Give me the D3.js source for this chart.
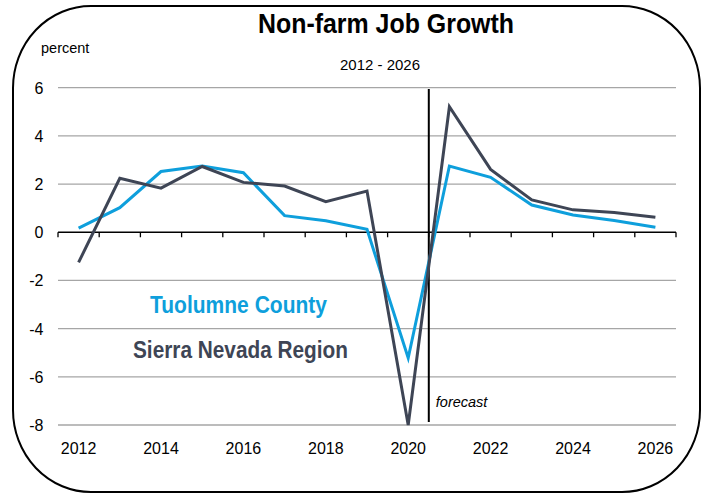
<!DOCTYPE html>
<html>
<head>
<meta charset="utf-8">
<script src="https://cdn.jsdelivr.net/npm/d3@7"></script>
<style>
	body { margin: 0; background: #fff; }
	svg { display: block; font-family: "Liberation Sans", Arial, sans-serif; }
</style>
</head>
<body>
<div id="chart"></div>
<script>
var years = [2012, 2013, 2014, 2015, 2016, 2017, 2018, 2019, 2020,
             2021, 2022, 2023, 2024, 2025, 2026];
var tuolumne = [0.17, 1.02, 2.52, 2.75, 2.47, 0.69, 0.48, 0.12, -5.22,
                2.75, 2.28, 1.13, 0.72, 0.49, 0.21];
var sierra = [-1.25, 2.24, 1.83, 2.73, 2.07, 1.92, 1.27, 1.71, -8.0,
              5.21, 2.61, 1.34, 0.93, 0.82, 0.62];
var yTicks = [-8, -6, -4, -2, 0, 2, 4, 6];
var xLabels = [2012, 2014, 2016, 2018, 2020, 2022, 2024, 2026];
var forecastStart = 2021;

var W = 708, H = 493;
var svg = d3.select('#chart').append('svg')
	.attr('width', W).attr('height', H);

// rounded frame
svg.append('rect')
	.attr('x', 13).attr('y', 6)
	.attr('width', 687).attr('height', 486)
	.attr('rx', 78).attr('ry', 82)
	.style('fill', 'none')
	.style('stroke', '#000')
	.style('stroke-width', 2);

var x = d3.scaleBand().domain(years).range([58, 676]);
var y = d3.scaleLinear().domain([-8, 6]).range([425, 87.7]);
var cx = function(d) { return x(d) + x.bandwidth() / 2; };

// gridlines
svg.append('g').selectAll('line')
	.data(yTicks.filter(function(d) { return d !== 0; }))
	.join('line')
	.attr('x1', 58).attr('x2', 676)
	.attr('y1', function(d) { return y(d); })
	.attr('y2', function(d) { return y(d); })
	.style('stroke', '#a6a6a6')
	.style('stroke-width', 1.3);

// y labels
svg.append('g').selectAll('text')
	.data(yTicks)
	.join('text')
	.attr('x', 43.5)
	.attr('y', function(d) { return y(d) + 6; })
	.attr('text-anchor', 'end')
	.style('font-size', '16px')
	.style('fill', '#000')
	.text(function(d) { return d; });

// zero axis with ticks on category boundaries
var boundaries = years.map(function(d) { return x(d); }).concat([676]);
svg.append('line')
	.attr('x1', 58).attr('x2', 676)
	.attr('y1', y(0)).attr('y2', y(0))
	.style('stroke', '#000').style('stroke-width', 1.3);
svg.append('g').selectAll('line')
	.data(boundaries)
	.join('line')
	.attr('x1', function(d) { return d; }).attr('x2', function(d) { return d; })
	.attr('y1', y(0)).attr('y2', y(0) + 5)
	.style('stroke', '#000').style('stroke-width', 1.3);

// x labels
svg.append('g').selectAll('text')
	.data(xLabels)
	.join('text')
	.attr('x', function(d) { return cx(d); })
	.attr('y', 453.5)
	.attr('text-anchor', 'middle')
	.style('font-size', '16px')
	.text(function(d) { return d; });

// forecast divider
var fx = x(forecastStart);
svg.append('line')
	.attr('x1', fx).attr('x2', fx)
	.attr('y1', 89).attr('y2', 422)
	.style('stroke', '#000').style('stroke-width', 2);
svg.append('text')
	.attr('x', fx + 7).attr('y', 407)
	.style('font-size', '14.5px')
	.style('font-style', 'italic')
	.text('forecast');

// series
var line = d3.line()
	.x(function(d, i) { return cx(years[i]); })
	.y(function(d) { return y(d); });

svg.append('path')
	.datum(tuolumne)
	.attr('d', line)
	.style('fill', 'none')
	.style('stroke', '#0e9fdc')
	.style('stroke-width', 3);

svg.append('path')
	.datum(sierra)
	.attr('d', line)
	.style('fill', 'none')
	.style('stroke', '#3e4555')
	.style('stroke-width', 3);

// titles
svg.append('text')
	.attr('x', 386).attr('y', 33)
	.attr('text-anchor', 'middle')
	.attr('textLength', 256).attr('lengthAdjust', 'spacingAndGlyphs')
	.style('font-size', '27px').style('font-weight', 'bold')
	.text('Non-farm Job Growth');
svg.append('text')
	.attr('x', 380).attr('y', 70)
	.attr('text-anchor', 'middle')
	.style('font-size', '15px')
	.text('2012 - 2026');
svg.append('text')
	.attr('x', 41).attr('y', 53)
	.style('font-size', '14.5px')
	.text('percent');

// legend labels
svg.append('text')
	.attr('x', 150).attr('y', 313)
	.attr('textLength', 177).attr('lengthAdjust', 'spacingAndGlyphs')
	.style('font-size', '23px').style('font-weight', 'bold')
	.style('fill', '#0e9fdc')
	.text('Tuolumne County');
svg.append('text')
	.attr('x', 133).attr('y', 358)
	.attr('textLength', 215).attr('lengthAdjust', 'spacingAndGlyphs')
	.style('font-size', '23px').style('font-weight', 'bold')
	.style('fill', '#3e4555')
	.text('Sierra Nevada Region');
</script>
</body>
</html>
